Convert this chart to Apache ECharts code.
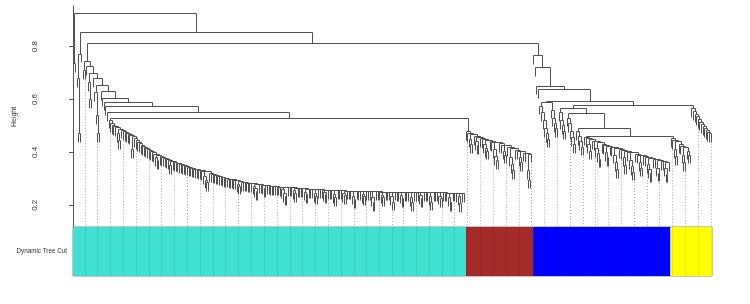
<!DOCTYPE html>
<html>
<head>
<meta charset="utf-8">
<script src="https://cdn.jsdelivr.net/npm/echarts@6/dist/echarts.min.js"></script>
<style>
html,body{margin:0;padding:0;background:#fff;}
#chart{width:750px;height:304px;}
</style>
</head>
<body>
<div id="chart"></div>
<script>
// ---------------- data ----------------
const moduleNames = ['turquoise', 'brown', 'blue', 'yellow'];
const moduleSizes = [246, 42, 86, 26];
const moduleColors = ['#40E0D0', '#A52A2A', '#0000FF', '#FFFF00'];
const rowLabels = ['Dynamic Tree Cut'];
const yTicks = [0.2, 0.4, 0.6, 0.8];
const guideCount = 50;

// Dendrogram as "ladders": number = merge height with a single gene as left branch,
// [h, sub] = merge height with a sub-cluster as left branch, trailing name = rightmost branch.
const rootLadder = [[0.924, 'L0'], [0.854, 'C'], [0.811, 'Y'], 'Z'];
const L0 = [0.735];
const C = [[0.772, 'Ctail']];
const Ctail = [0.68, 0.47];
const Y = [[0.745, 'ya'], 0.725, [0.70, 'yb'], 0.68, [0.655, 'yc'], 0.63, 0.605, 0.59, 0.573, 0.55, 'TT'];
const ya = [0.71];
const yb = [0.665, 0.6];
const yc = [0.625, 0.54, 0.47];
const TT = [[0.53, 'TL'], 'BR'];
const TL = [
  0.522, 0.508, 0.502, 0.497, 0.493,
  [0.488, [0.47, 0.445]],
  0.484, 0.479, 0.475, 0.471, 0.467, 0.463,
  [0.459, [0.41]],
  0.452, 0.445, 0.438, 0.432, 0.426, 0.421, 0.417, 0.413, 0.41, 0.406, 0.402, 0.398, 0.394,
  [0.39, [0.38, 0.37]],
  0.384, 0.381, 0.378, 0.376, 0.373, 0.37,
  [0.367, [0.35]],
  0.364, 0.361, 0.359, 0.357, 0.355, 0.353, 0.351, 0.349, 0.346, 0.344, 0.342, 0.34, 0.338, 0.337, 0.335, 0.334, 0.332, 0.33, 0.328,
  [0.326, [0.31, 0.295, 0.285]],
  0.32, 0.318, 0.316, 0.314, 0.312, 0.31, 0.308, 0.306, 0.304, 0.302, 0.3, 0.299, 0.298, 0.297, 0.296, 0.294, 0.292,
  [0.29, [0.28, 0.272]],
  0.287, 0.286, 0.285, 0.284, 0.283, 0.282, 0.281,
  [0.28, [0.272, 0.262, 0.252]],
  0.277, 0.276, 0.275,
  [0.274, [0.262]],
  0.273, 0.272, 0.271, 0.271, 0.27, 0.27, 0.269, 0.269, 0.268,
  [0.268, [0.258, 0.245, 0.232]],
  0.267, 0.266, 0.266,
  [0.265, [0.255, 0.245]],
  0.264,
  0.263, 0.262, 0.262, [0.261, [0.25, 0.24]],
  0.26, 0.26, 0.259, [0.259, [0.245, 0.235]],
  0.258, 0.258, 0.257, [0.257, [0.247, 0.24]],
  0.256, 0.256, 0.256, [0.256, [0.24, 0.228]],
  0.255, 0.255, 0.255, [0.254, [0.245, 0.236]],
  0.254, 0.254, 0.253, [0.253, [0.235, 0.222]],
  0.253, 0.252, 0.252, [0.252, [0.24, 0.232]],
  0.252, 0.252, 0.251, [0.251, [0.23, 0.21]],
  0.251, 0.251, 0.25, [0.25, [0.238, 0.228]],
  0.25, 0.25, 0.25, [0.25, [0.232, 0.212]],
  0.25, 0.249, 0.249, [0.249, [0.238, 0.226]],
  0.249, 0.249, 0.249, [0.249, [0.23, 0.21]],
  0.248, 0.248, 0.248, [0.248, [0.236, 0.225]],
  0.248, 0.248, 0.247, [0.247, [0.232, 0.212]],
  0.247, 0.247, 0.247, [0.247, [0.235, 0.225]],
  0.247, 0.246, 0.246, [0.246, [0.23, 0.21]],
  0.246, 0.246, 0.245, [0.245, [0.232, 0.205]],
  0.245
];
const BR = [
  0.478, 0.472,
  [0.468, [0.45, 0.43]],
  0.46,
  [0.456, [0.44, 0.425]],
  0.452, 0.449,
  [0.446, [0.43, 0.415, 0.405]],
  0.44, 0.438,
  [0.436, [0.41, 0.385, 0.368]],
  0.432, 0.428,
  [0.425, [0.405, 0.39]],
  0.418,
  [0.414, [0.38, 0.355, 0.33]],
  0.408, 0.405,
  [0.402, [0.38, 0.36]],
  0.397, 0.395,
  [0.393, [0.33, 0.295]]
];
const Z = [0.765, 0.72, 0.651, 0.638, [0.594, 'BL'], [0.579, 'BM'], 'YE'];
const BL = [[0.587, 'bl1'], 'bl2'];
const bl1 = [0.575, 0.55, 0.52, 0.49, 0.47, 0.45];
const bl2 = [0.56, 0.53, 0.51, 0.49];
const BM = [[0.565, 'bm1'], [0.548, 'bm2'], [0.491, 'bm3'], [0.462, 'bmMain'], 'bmY'];
const bm1 = [0.55, 0.52, 0.50, 0.48];
const bm2 = [0.53, 0.51, 0.48, 0.455, 0.43];
const bm3 = [0.478, 0.46, 0.44, 0.42];
const bmMain = [
  0.458, 0.452,
  [0.447, [0.43, 0.405]],
  0.443, 0.44,
  [0.436, [0.415, 0.395, 0.375]],
  0.43, 0.427,
  [0.424, [0.4, 0.38]],
  0.42, 0.417,
  [0.414, [0.39, 0.36, 0.335]],
  0.41, 0.407,
  [0.404, [0.38, 0.35]],
  0.4,
  [0.398, [0.37, 0.345, 0.325]],
  0.393, 0.39,
  [0.388, [0.36, 0.34]],
  0.384, 0.381,
  [0.378, [0.355, 0.335, 0.32]],
  0.374, 0.372,
  [0.37, [0.34, 0.322]],
  0.366, 0.364,
  [0.362, [0.34, 0.318]]
];
const bmY = [0.452, 0.445, [0.44, [0.41, 0.385]], 0.43, 0.424, [0.418, [0.39, 0.362]], 0.405, 0.39];
const YE = [0.565, 0.555, 0.545, 0.535, 0.525, 0.515, 0.505, 0.497, 0.49, 0.483, 0.476, 0.47];

// ---------------- build the tree ----------------
const HANG = 0.033;
const Y_MIN = 0.114, Y_MAX = 0.954;
const lookup = {L0, C, Ctail, Y, ya, yb, yc, TT, TL, BR, Z, BL, bl1, bl2, BM, bm1, bm2, bm3, bmMain, bmY, YE};
let leafCounter = 0;
const merges = [];
const leafBottom = [];
function newLeaf() { const i = leafCounter++; return {leaf: true, x: i + 0.5, idx: i}; }
function build(spec) {
  if (typeof spec === 'string') return build(lookup[spec]);
  const heights = [], lefts = [];
  let terminal = null;
  for (const e of spec) {
    if (typeof e === 'number') { heights.push(e); lefts.push(newLeaf()); }
    else if (Array.isArray(e)) { heights.push(e[0]); lefts.push(build(e[1])); }
    else terminal = e;
  }
  let node = terminal ? build(terminal) : newLeaf();
  for (let k = heights.length - 1; k >= 0; k--) node = merge(lefts[k], node, heights[k]);
  return node;
}
function topOf(n, h) {
  if (n.leaf) { leafBottom[n.idx] = h - HANG; return h - HANG; }
  return n.h;
}
function merge(a, b, h) {
  merges.push([a.x, topOf(a, h), h, b.x, topOf(b, h)]);
  return {leaf: false, x: (a.x + b.x) / 2, h: h};
}
build(rootLadder);
const nLeaves = leafCounter;
const totalModules = moduleSizes.reduce((s, v) => s + v, 0);

const guides = [];
for (let k = 1; k <= guideCount; k++) {
  const ind = Math.round(k * nLeaves / guideCount) - 1;
  guides.push([ind + 0.5, leafBottom[ind]]);
}
const guideBar = guides.map(g => [g[0] * totalModules / nLeaves]);

// ---------------- chart ----------------
const snap = v => Math.round(v - 0.5) + 0.5;
const chart = echarts.init(document.getElementById('chart'), null, {renderer: 'canvas'});
const font = 'Liberation Sans, Arial, Helvetica, sans-serif';
const option = {
  animation: false,
  textStyle: {fontFamily: font},
  grid: [
    {left: 73, right: 38, top: 6, height: 222},
    {left: 73, right: 38, top: 227, height: 49, show: true, borderColor: '#8a8a8a', borderWidth: 1, backgroundColor: 'transparent'}
  ],
  xAxis: [
    {gridIndex: 0, type: 'value', min: 0, max: nLeaves, show: false},
    {gridIndex: 1, type: 'value', min: 0, max: totalModules, show: false}
  ],
  yAxis: [
    {
      gridIndex: 0, type: 'value', min: Y_MIN, max: Y_MAX, offset: 25,
      axisLine: {show: true, lineStyle: {color: '#555', width: 1}},
      axisTick: {show: true, length: 4, customValues: yTicks, lineStyle: {color: '#555'}},
      axisLabel: {customValues: yTicks, rotate: 90, fontSize: 8, color: '#333', margin: 9,
                  formatter: v => Number(v).toFixed(1)},
      splitLine: {show: false},
      name: 'Height', nameLocation: 'middle', nameGap: 30, nameRotate: 90,
      nameTextStyle: {fontSize: 7, color: '#333'}
    },
    {
      gridIndex: 1, type: 'category', data: rowLabels,
      axisLine: {show: false}, axisTick: {show: false},
      axisLabel: {fontSize: 6.3, color: '#333', margin: 6}
    }
  ],
  series: [
    {
      type: 'custom', xAxisIndex: 0, yAxisIndex: 0, silent: true,
      data: guides,
      renderItem: (params, api) => {
        const p1 = api.coord([api.value(0), api.value(1) - 0.004]);
        const p2 = api.coord([api.value(0), Y_MIN]);
        const x = snap(p1[0]);
        return {type: 'line', shape: {x1: x, y1: p1[1], x2: x, y2: p2[1]},
                style: {stroke: '#a8a8a8', lineWidth: 1, lineDash: [1, 2]}};
      },
      z: 1
    },
    {
      type: 'custom', xAxisIndex: 0, yAxisIndex: 0, silent: true,
      data: merges,
      dimensions: ['xa', 'ya', 'h', 'xb', 'yb'],
      encode: {x: [0, 3], y: [1, 2, 4]},
      renderItem: (params, api) => {
        const pts = [
          api.coord([api.value(0), api.value(1)]),
          api.coord([api.value(0), api.value(2)]),
          api.coord([api.value(3), api.value(2)]),
          api.coord([api.value(3), api.value(4)])
        ].map(p => [snap(p[0]), snap(p[1])]);
        return {type: 'polyline', shape: {points: pts},
                style: {stroke: '#505050', lineWidth: 1, fill: null}};
      },
      z: 2
    },
    ...moduleNames.map((name, i) => ({
      name: name, type: 'bar', xAxisIndex: 1, yAxisIndex: 1, stack: 'modules',
      data: [moduleSizes[i]], barWidth: '100%', barCategoryGap: '0%',
      itemStyle: {color: moduleColors[i]}, silent: true, z: 2
    })),
    {
      type: 'custom', xAxisIndex: 1, yAxisIndex: 1, silent: true, z: 5,
      data: guideBar,
      renderItem: (params, api) => {
        const cs = params.coordSys;
        const x = snap(api.coord([api.value(0), 0])[0]);
        return {type: 'line', shape: {x1: x, y1: cs.y, x2: x, y2: cs.y + cs.height},
                style: {stroke: 'rgba(0,0,0,0.07)', lineWidth: 1}};
      }
    }
  ]
};
chart.setOption(option);
</script>
</body>
</html>
